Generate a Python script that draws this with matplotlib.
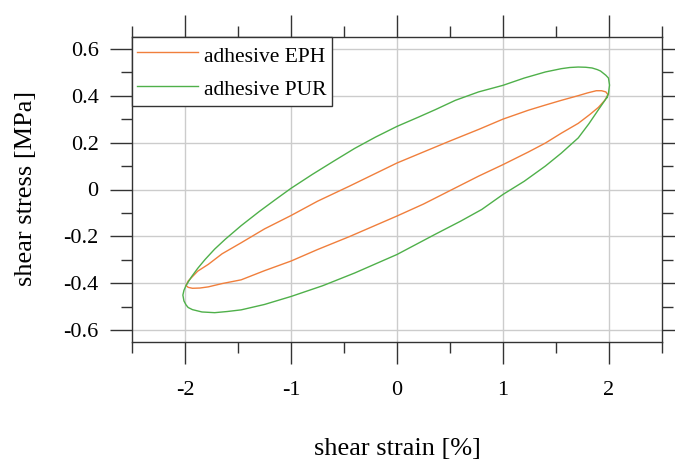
import matplotlib.pyplot as plt
from matplotlib.ticker import MultipleLocator

# Hysteresis loops (closed: upper branch right->left, lower branch left->right)
eph_strain = [1.99, 1.97, 1.93, 1.88, 1.80, 1.71, 1.55, 1.40, 1.24, 1.00, 0.77, 0.49, 0.25, 0.00,
              -0.45, -0.75, -1.00, -1.25, -1.47, -1.65, -1.78, -1.88, -1.94, -1.97, -1.99,
              -1.97, -1.93, -1.86, -1.78, -1.65, -1.47, -1.25, -1.00, -0.75, -0.45, 0.00, 0.25,
              0.49, 0.77, 1.00, 1.24, 1.40, 1.55, 1.71, 1.82, 1.90, 1.96, 1.99]
eph_stress = [0.404, 0.416, 0.421, 0.421, 0.412, 0.400, 0.380, 0.360, 0.338, 0.300, 0.256, 0.205, 0.160, 0.113,
              0.014, -0.050, -0.111, -0.168, -0.227, -0.274, -0.319, -0.348, -0.376, -0.390, -0.409,
              -0.417, -0.421, -0.420, -0.415, -0.401, -0.385, -0.346, -0.305, -0.256, -0.201, -0.113, -0.062,
              -0.007, 0.057, 0.106, 0.160, 0.198, 0.240, 0.282, 0.320, 0.350, 0.380, 0.404]

pur_strain = [1.98, 1.995, 2.005, 1.995, 1.97, 1.92, 1.89, 1.84, 1.78, 1.71, 1.63, 1.55, 1.40, 1.20, 1.00,
              0.77, 0.55, 0.36, 0.20, 0.00, -0.20, -0.40, -0.60, -0.80, -1.00, -1.15, -1.30, -1.47,
              -1.62, -1.72, -1.81, -1.88, -1.94, -1.99, -2.01, -2.02,
              -2.01, -1.99, -1.97, -1.93, -1.84, -1.72, -1.60, -1.47, -1.25, -1.00, -0.70, -0.40,
              0.00, 0.36, 0.60, 0.80, 1.00, 1.20, 1.40, 1.55, 1.71, 1.81, 1.90, 1.98]
pur_stress = [0.392, 0.410, 0.445, 0.475, 0.487, 0.505, 0.511, 0.518, 0.521, 0.522, 0.520, 0.515, 0.501, 0.475, 0.444,
              0.416, 0.380, 0.340, 0.308, 0.269, 0.224, 0.175, 0.120, 0.064, 0.005, -0.044, -0.094, -0.154,
              -0.212, -0.254, -0.298, -0.336, -0.373, -0.409, -0.430, -0.450,
              -0.475, -0.492, -0.503, -0.512, -0.522, -0.525, -0.520, -0.513, -0.490, -0.456, -0.410, -0.356,
              -0.277, -0.191, -0.135, -0.085, -0.021, 0.035, 0.100, 0.155, 0.220, 0.280, 0.340, 0.392]

labels = ['adhesive EPH', 'adhesive PUR']
colors = ['#f07f3c', '#4fb04a']

plt.rcParams['font.family'] = ['Liberation Serif', 'DejaVu Serif']

fig = plt.figure(figsize=(6.75, 4.59), dpi=100)
ax = fig.add_axes([132 / 675, 117 / 459, 530 / 675, 305 / 459])

ax.plot(eph_strain, eph_stress, color=colors[0], lw=1.0, label=labels[0], zorder=3)
ax.plot(pur_strain, pur_stress, color=colors[1], lw=1.0, label=labels[1], zorder=3)

ax.set_xlim(-2.5, 2.5)
ax.set_ylim(-0.65, 0.65)
ax.xaxis.set_minor_locator(MultipleLocator(0.5))
ax.yaxis.set_minor_locator(MultipleLocator(0.1))
ax.set_xticks([-2, -1, 0, 1, 2], ['-2', '-1', '0', '1', '2'])
ax.set_yticks([-0.6, -0.4, -0.2, 0, 0.2, 0.4, 0.6],
              ['-0.6', '-0.4', '-0.2', '0', '0.2', '0.4', '0.6'])

ax.grid(True, which='major', color='#cccccc', lw=1.0, zorder=0)
ax.tick_params(which='both', direction='out', top=True, right=True, color='#333333',
               labelsize=16, width=1.0)
ax.tick_params(which='major', length=16, pad=8)
ax.tick_params(axis='x', which='major', pad=12)
ax.tick_params(which='minor', length=8)
for s in ax.spines.values():
    s.set_color('#333333')
    s.set_linewidth(1.0)

ax.set_xlabel('shear strain [%]', fontsize=19)
ax.set_ylabel('shear stress [MPa]', fontsize=19)
ax.xaxis.set_label_coords(0.5, -0.315)
ax.yaxis.set_label_coords(-0.18, 0.505)

leg = ax.legend(loc='upper left', bbox_to_anchor=(0, 1), borderaxespad=0, fontsize=15.5,
                handlelength=2.8, handletextpad=0.3, handleheight=1.35, borderpad=0.25,
                labelspacing=0.43, fancybox=False, framealpha=1, edgecolor='#333333')
leg.get_frame().set_linewidth(1.0)

fig.savefig('out.png', dpi=100)
